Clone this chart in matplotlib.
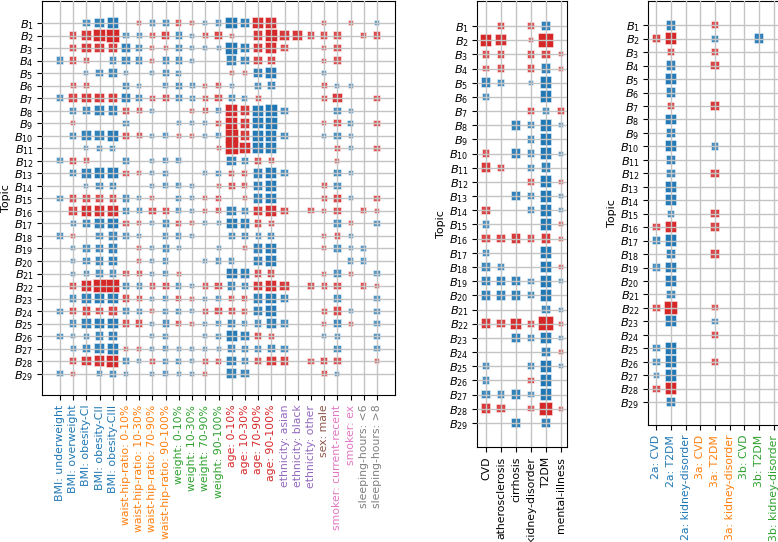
import matplotlib
matplotlib.use('Agg')
import matplotlib.pyplot as plt
import numpy as np

# nhãn cột của ba bảng
risk_factors = ['BMI: underweight', 'BMI: overweight', 'BMI: obesity-CI', 'BMI: obesity-CII', 'BMI: obesity-CIII',
                'waist-hip-ratio: 0-10%', 'waist-hip-ratio: 10-30%', 'waist-hip-ratio: 70-90%', 'waist-hip-ratio: 90-100%',
                'weight: 0-10%', 'weight: 10-30%', 'weight: 70-90%', 'weight: 90-100%',
                'age: 0-10%', 'age: 10-30%', 'age: 70-90%', 'age: 90-100%',
                'ethnicity: asian', 'ethnicity: black', 'ethnicity: other', 'sex: male',
                'smoker: current-recent', 'smoker: ex', 'sleeping-hours: <6', 'sleeping-hours: >8']
risk_colors = ['tab:blue'] * 5 + ['tab:orange'] * 4 + ['tab:green'] * 4 + ['tab:red'] * 4 + \
              ['tab:purple'] * 3 + ['tab:brown'] + ['tab:pink'] * 2 + ['tab:gray'] * 2

diseases = ['CVD', 'atherosclerosis', 'cirrhosis', 'kidney-disorder', 'T2DM', 'mental-illness']

outcomes = ['2a: CVD', '2a: T2DM', '2a: kidney-disorder', '3a: CVD', '3a: T2DM', '3a: kidney-disorder',
            '3b: CVD', '3b: T2DM', '3b: kidney-disorder']
outcome_colors = ['tab:blue'] * 3 + ['tab:orange'] * 3 + ['tab:green'] * 3

topics = ['$B_{%d}$' % i for i in range(1, 30)]

# giá trị: dương = xanh, âm = đỏ, độ lớn = kích thước
risk_vals = [
    [0, 0, 2, 3, 3.5, 0, -1, 1.5, 2, -1.5, -1, 1, 1.5, 4, 3, -3.5, -3.5, 0, 0, 0, -1, 0, -1, 0, 1],
    [0, -2, -3, -4, -4.5, 1.5, 1.5, -1.5, -2.5, 2, 1, -1.5, -2.5, -1, 0, -3, -4, -3, -3, -2, -2, -2, 0, -1.5, -2],
    [0, -2, -3, -3, -3, 3, 2, -1, -1, 2, 1, 1, 1, 4, 3, -3, -3.5, -2, 0, 0, -1, -2, 0, 0, 0],
    [2, -2, -1.5, 0, 2, 2.5, 2, -1, 2, 2, 1, 0, 0, 3, 2.5, -2.5, -2.5, 0, 0, 0, -1, -2, 0, 0, 0],
    [0, 0, 1, 2, 2.5, 1, 0, 1, 2, 1.5, 0, 0, 0, -1, -1, 3, 3.5, 0, 0, 0, 1, 0, 0, 0, 0],
    [0, -1.5, -1.5, 0, 0, 2, 1, 0, 1.5, 2, 1.5, -1, -1.5, 1, 0, 2, 2.5, 0, 0, 0, -1.5, 1, 1, 0, 0],
    [2, -2.5, -3, -3, -3, 3, 2, -1.5, -2, 2, 1.5, -1.5, -2, 2, 1.5, -1.5, 0, 0, 0, 0, -1.5, -3, 0, 0, -1.5],
    [0, 2, 2.5, 3, 3, -2, -1.5, 1, 0, 0, -1, -1.5, 1.5, -4, -3, 3.5, 4, 2, 0, 0, 0, 2, 1, 0, 0],
    [0, -1, 0, 0, 0, 1.5, 0, 0, 0, 1, 1, 1, -1.5, -4, -3, 3.5, 4, 0, 0, 0, -1, -2, 1.5, 0, -1.5],
    [0, 2, 3, 3, 3.5, -2, -1.5, 1, 1.5, -1, -1, 1, 1.5, -4.5, -3, 3.5, 3.5, 2, 0, 0, 1, 2, 1, 0, 0],
    [0, 0, 1, 1.5, 1.5, 0, 0, 0, 0, 0, 0, 0, -1, -4.5, -3.5, 3.5, 3.5, 0, 0, 0, 0, -1.5, 1, 0, -1.5],
    [1.5, -2, -1.5, 0, 0, 2, 0, 1, 1.5, 1.5, 0, 0, 0, 3, 2, -2, -1.5, 0, 0, 0, 0, -1, 0, 0, 0],
    [0, 2, 3, 3.5, 3.5, -1.5, -1, 1, 1.5, 0, 0, 1, 1.5, -1.5, -1.5, 3, 3.5, 2, 0, 0, 0, 2, 1, 0, 0],
    [0, 0, 1, 2, 2, 0, 0, 1, 1.5, 1.5, 1, 0, -1, -2, -1.5, 3, 3.5, 0, 0, 0, -1.5, 2, 0, 0, 0],
    [1.5, -2, -2, -2, -2, 2, 1, -1, 0, 1.5, 1, -1, -1.5, 0, -1, 3, 3.5, 0, 0, 0, -1.5, -2.5, 1, 0, -1.5],
    [0, -2.5, -3.5, -3.5, -3.5, 2, 1.5, -2, -2, 1.5, 1, -1, -1.5, 3, 2, -3, -3.5, -2, 0, -1.5, -1, -2, 0, -1.5, -1],
    [0, 1.5, 2.5, 3, 3.5, -1.5, -1, 1, 2, -1.5, -1, 1, 1, 3.5, 3, -2, -1.5, 0, 0, 0, 0, 2, -1, 0, 1.5],
    [1.5, -1, 0, 2, 2.5, 1.5, 1, 0, 1.5, 1.5, 1, 0, 0, 2, 2, 1.5, 2, 0, 0, 0, -1, -1.5, 1, 0, 0],
    [0, 1, 2, 2.5, 3, 0, -1, 1, 2, 1, 0, 0, 1, 0, -1, 3, 3.5, 0, 0, 0, -1, 2, 1, 1.5, 0],
    [0, 1, 2, 2.5, 3, 0, -1, 1, 1.5, 0, 0, 1, 1.5, 1.5, 0, 3, 3.5, 0, 0, 0, 0, 0, 1.5, 1.5, 0],
    [0, 1, 1.5, 2, 2, -1.5, -1.5, 1, 1.5, -1, 0, 0, 0, 3.5, 3, -2, -2, 0, 0, 0, -1, 2, -1, 0, 1.5],
    [0, -2, -3.5, -4.5, -4.5, 2, 1.5, -1.5, -2, 1.5, 1, -1.5, -2, 2.5, 2, -3, -3.5, -3, 0, -2, -1.5, -2, 0, -1.5, -1],
    [0, 2, 3, 3.5, 3.5, -2, -1.5, 1, 1.5, -1.5, -1, 1, 1.5, -1.5, -1.5, 3, 3.5, 2.5, 0, 0, 0, 2, 0, 0, 1.5],
    [1.5, -2, -2.5, -2, -2.5, 2, 1.5, -1, 1.5, 1.5, 1, -1.5, -2, -2, -1.5, 3, 3.5, 0, 0, 0, -1.5, -2.5, 1, 0, 1.5],
    [0, 2, 3, 3.5, 3.5, -2, -2, 1, 2, -1.5, -1, 1, 1.5, 2.5, 1.5, 2, 3, 2, 0, 0, -1, 2.5, -1, 0, 1.5],
    [1.5, 1, 1.5, 2.5, 3, 0, 0, 1, 1.5, 0, 0, 1, 1.5, 3.5, 3, -2, -1.5, 0, 0, 0, 1, 1.5, 0, 0, 1.5],
    [0, 1.5, 2.5, 3, 3.5, -1, -1, 1, 1.5, 1, 1, 1, 1, 2.5, 2, 2, 2.5, 2, 0, 0, 0, 2, 0, 0, 1.5],
    [0, -2, -3, -3.5, -4, 2, 1, -1.5, 1.5, 1.5, 1, -1.5, -1.5, 3, 2, -2, -3, -2.5, 0, -1.5, -2, -2, 0, 0, -1],
    [1.5, -1, 0, 1.5, 2, 1, 0, 1, 1.5, 1, 1, -1, 0, 3, 2.5, 0, 0, 0, 0, 0, -1.5, 1, 0, 0, 0],
]

disease_vals = [
    [0, -2, 0, -1.5, 3, 0],
    [-4, -3.5, 0, -1, -5, 0],
    [-2, -2, 0, -2, -2.5, -1],
    [-1.5, -2, 0, -2, 3, -1],
    [3, 2, 0, 1, 4, 0],
    [2, 0, 0, 0, 4, 0],
    [0, 0, 0, -2, 2, -2],
    [0, 0, 3, 2, 4, 1],
    [0, 0, 0, 2, 4, 0],
    [-2, 0, 3, 2, 4, 1],
    [-3, -2, 0, 2, 3, 0],
    [0, 0, 0, -1.5, 4, -1],
    [0, 0, 3, 2, 4, 1],
    [-2.5, 0, 0, 2, 4, 1],
    [2, 0, 0, 0, 4, -1],
    [-2.5, -2.5, -3, -2, -3, -1],
    [2, 0, 0, 0, 4, 0],
    [2.5, 2, 0, 0, 4, -1],
    [3, 3, 3, 1.5, 4, 1],
    [3, 3, 3, 2, 4, 0],
    [0, 0, 0, 0, 2.5, 1],
    [-3, -2.5, -3.5, -2, -5, -1],
    [0, 0, 3, 2, 3.5, 1],
    [0, 0, 0, 0, 3, -1],
    [2, 0, 0, 2, 4, 1],
    [2, 0, 0, -1.5, 4, 0],
    [2.5, 2, 3, 1.5, 4, 0],
    [-3, -2.5, 0, -1.5, -4.5, -1],
    [0, 0, 3, 0, 3, 0],
]

outcome_vals = [
    [0, 3, 0, 0, -2, 0, 0, 0, 0],
    [-2.5, -4, 0, 0, 2, 0, 0, 3, 0],
    [0, -2, 0, 0, -2, 0, 0, 0, 0],
    [0, 3, 0, 0, -2.5, 0, 0, 0, 0],
    [0, 3.5, 0, 0, 0, 0, 0, 0, 0],
    [0, 3, 0, 0, 0, 0, 0, 0, 0],
    [0, -2, 0, 0, -3, 0, 0, 0, 0],
    [0, 3.5, 0, 0, 0, 0, 0, 0, 0],
    [0, 3, 0, 0, 0, 0, 0, 0, 0],
    [0, 3.5, 0, 0, 2, 0, 0, 0, 0],
    [0, 3, 0, 0, 0, 0, 0, 0, 0],
    [0, 2.5, 0, 0, -2.5, 0, 0, 0, 0],
    [0, 3.5, 0, 0, 0, 0, 0, 0, 0],
    [0, 3.5, 0, 0, 0, 0, 0, 0, 0],
    [0, 2, 0, 0, -2.5, 0, 0, 0, 0],
    [-2, -3.5, 0, 0, -2.5, 0, 0, 0, 0],
    [2.5, 4, 0, 0, 0, 0, 0, 0, 0],
    [0, 3, 0, 0, -2.5, 0, 0, 0, 0],
    [2, 3.5, 0, 0, 0, 0, 0, 0, 0],
    [0, 3.5, 0, 0, 0, 0, 0, 0, 0],
    [0, 2.5, 0, 0, 0, 0, 0, 0, 0],
    [-2, -4.5, 0, 0, -1.5, 0, 0, 0, 0],
    [0, 3.5, 0, 0, 1.5, 0, 0, 0, 0],
    [0, 0, 0, 0, -2, 0, 0, 0, 0],
    [2, 4, 0, 0, 0, 0, 0, 0, 0],
    [2, 4, 0, 0, -2, 0, 0, 0, 0],
    [1.5, 4, 0, 0, 0, 0, 0, 0, 0],
    [-2, -4, 0, 0, 0, 0, 0, 0, 0],
    [0, 3, 0, 0, 0, 0, 0, 0, 0],
]

W, H = 778, 542
fig = plt.figure(figsize=(W / 100, H / 100), dpi=100)


def draw_panel(box, vals, xlabels, xcolors, xlim):
    l, t, r, b = box
    ax = fig.add_axes([l / W, 1 - b / H, (r - l) / W, (b - t) / H])
    v = np.array(vals, dtype=float)
    rows, cols = np.nonzero(v)
    mag = np.abs(v[rows, cols])
    side = (2.3 * mag + 1.7) * 0.72  # cạnh ô vuông (pt)
    base = np.where(v[rows, cols] > 0, 0, 1)
    rgb = np.array([[0.122, 0.467, 0.706], [0.839, 0.153, 0.157]])[base]
    alpha = np.clip(0.55 + 0.12 * mag, 0, 1)
    face = np.column_stack([rgb, alpha])
    edge = np.column_stack([rgb, alpha * 0.35])
    ax.scatter(cols, rows + 1, s=side ** 2, marker='s', c=face, edgecolors=edge, linewidths=1.2, zorder=1)
    ax.set_axisbelow(False)
    ax.grid(True, color='#c4c4c4', lw=1.0, zorder=2.5)
    ax.set_xlim(*xlim)
    ax.set_ylim(30.7, -0.8)
    ax.set_yticks(range(1, 30))
    ax.set_yticklabels(topics, fontsize=8.2)
    ax.tick_params(axis='y', pad=2.5)
    ax.set_xticks(range(len(xlabels)))
    ax.set_xticklabels(xlabels, rotation=90, fontsize=7.8)
    for lab, col in zip(ax.get_xticklabels(), xcolors):
        lab.set_color(col)
    ax.set_ylabel('Topic', fontsize=8, labelpad=2)
    return ax


draw_panel((42, 0.5, 395, 395), risk_vals, risk_factors, risk_colors, (-1.36, 25.36))
draw_panel((477, 0.5, 567, 447), disease_vals, diseases, ['black'] * 6, (-0.6, 5.4))
draw_panel((648, 1, 782, 425), outcome_vals, outcomes, outcome_colors, (-0.57, 8.57))

plt.savefig('out.png', dpi=100)
